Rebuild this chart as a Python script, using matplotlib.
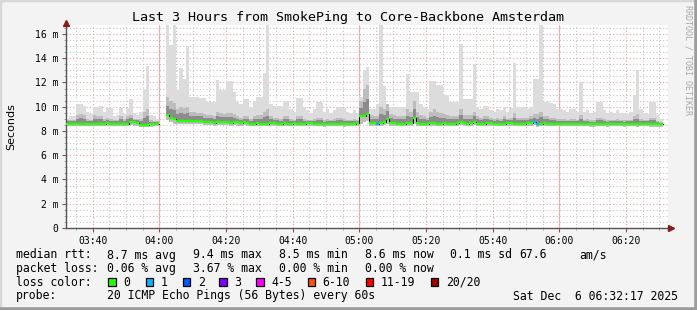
import numpy as np
import matplotlib.pyplot as plt
from matplotlib.patches import Rectangle
from matplotlib.lines import Line2D

nan = np.nan

# one sample per minute, first sample at 03:32 (values in ms)
rtt_med = [8.6, 8.6, 8.6, 8.6, 8.6, 8.6, 8.6, 8.6, 8.6, 8.6,
           8.6, 8.6, 8.65, 8.6, 8.6, 8.6, 8.6, 8.6, 8.6,
           8.7, 8.7, 8.65, 8.5, 8.5, 8.5, 8.55, 8.55, 8.55,
           nan, nan,
           9.3, 9.1, 9.0, 8.85, 8.85, 8.85, 8.85, 8.85, 8.85, 8.85,
           8.85, 8.7, 8.7, 8.7, 8.65, 8.7, 8.7, 8.75, 8.7, 8.65,
           8.7, 8.7, 8.65, 8.7, 8.65, 8.6, 8.6, 8.65, 8.6, 8.6,
           8.6, 8.65, 8.65, 8.6, 8.6, 8.65, 8.6, 8.6, 8.65, 8.6,
           8.6, 8.6, 8.65, 8.65, 8.6, 8.6, 8.6, 8.55, 8.6, 8.6,
           8.6, 8.6, 8.6, 8.55, 8.6, 8.6, 8.6, 8.65,
           9.2, 9.2, 9.4, 8.65, 8.65, 8.6, 8.65, 8.75, 9.0, 8.65,
           8.65, 8.6, 8.6, 8.6, 8.65, 8.65, 9.05, 8.65, 8.6, 8.6,
           8.6, 8.65, 8.65, 8.6, 8.6, 8.65, 8.6, 8.6, 8.6, 8.65,
           8.7, 8.65, 8.6, 8.65, 8.7, 8.6, 8.6, 8.6, 8.65, 8.65,
           8.6, 8.6, 8.6, 8.6, 8.65, 8.65, 8.6, 8.6, 8.6, 8.6,
           8.65, 8.65, 8.7, 8.55, 8.6, 8.65, 8.6, 8.6, 8.6, 8.6,
           8.6, 8.6, 8.6, 8.6, 8.6, 8.6, 8.6, 8.6, 8.6, 8.55,
           8.55, 8.6, 8.6, 8.6, 8.55, 8.6, 8.6, 8.6, 8.6, 8.55,
           8.6, 8.6, 8.6, 8.55, 8.6, 8.6, 8.6, 8.55, 8.55, 8.55, 8.55]

rtt_max = [9.0, 9.2, 9.2, 10.2, 10.2, 10.1, 9.6, 9.4, 10.0, 10.0,
           10.1, 9.6, 9.9, 9.9, 9.2, 9.3, 9.9, 9.4, 9.9,
           10.6, 9.5, 9.3, 9.6, 11.5, 13.4, 9.3, 9.2, 9.0,
           nan, nan,
           16.7, 15.1, 16.7, 11.4, 13.2, 12.3, 15.0, 10.8, 10.8, 10.8,
           10.7, 10.7, 10.4, 10.4, 10.4, 12.2, 11.4, 11.4, 12.1, 12.1,
           11.2, 10.4, 10.2, 10.6, 10.6, 10.0, 10.5, 10.8, 10.8, 12.8,
           16.7, 10.2, 10.1, 10.1, 10.1, 10.5, 10.5, 9.8, 9.6, 10.7,
           10.7, 10.0, 9.7, 9.5, 9.8, 10.4, 10.4, 9.6, 9.8, 9.5,
           9.7, 10.0, 10.0, 9.9, 9.6, 9.5, 9.7, 9.5,
           10.8, 13.0, 13.3, 9.8, 9.8, 10.2, 16.7, 11.7, 10.0, 10.0,
           10.0, 10.0, 10.0, 10.0, 12.7, 11.2, 11.2, 11.2, 10.2, 10.0,
           9.8, 12.1, 12.1, 11.8, 11.8, 11.0, 11.0, 10.4, 10.4, 10.4,
           15.2, 10.6, 10.6, 10.6, 13.5, 10.0, 9.8, 10.1, 10.1, 9.7,
           9.6, 9.8, 9.7, 10.0, 9.6, 9.9, 13.6, 10.0, 10.0, 10.0,
           9.8, 10.0, 12.3, 12.3, 16.7, 10.4, 10.5, 10.3, 10.2, 9.8,
           9.8, 9.7, 9.6, 9.8, 9.8, 9.6, 12.0, 9.6, 9.7, 9.5,
           9.6, 10.4, 10.4, 9.7, 9.5, 9.6, 9.5, 9.7, 9.5, 9.5,
           9.4, 9.6, 11.0, 13.0, 9.8, 9.5, 9.4, 10.4, 10.4, 9.3, 9.0]

rtt_p75 = [8.9, 8.9, 8.9, 9.3, 9.4, 9.3, 9.0, 8.9, 9.3, 9.2,
           9.2, 9.0, 9.1, 9.0, 8.9, 8.9, 9.2, 9.0, 9.2,
           9.3, 9.0, 9.0, 9.0, 9.6, 9.8, 8.9, 8.8, 8.8,
           nan, nan,
           10.8, 10.5, 10.3, 9.8, 10.0, 9.9, 10.0, 9.6, 9.6, 9.5,
           9.5, 9.4, 9.3, 9.3, 9.2, 9.6, 9.5, 9.4, 9.5, 9.5,
           9.4, 9.2, 9.1, 9.2, 9.2, 9.0, 9.2, 9.3, 9.3, 9.6,
           9.8, 9.2, 9.1, 9.1, 9.0, 9.2, 9.2, 9.0, 8.9, 9.2,
           9.2, 9.0, 8.9, 8.9, 9.0, 9.1, 9.1, 8.9, 9.0, 8.9,
           9.0, 9.1, 9.1, 9.0, 8.9, 8.9, 9.0, 8.9,
           10.5, 11.5, 11.8, 9.3, 9.2, 9.2, 10.0, 9.8, 10.2, 9.4,
           9.3, 9.2, 9.2, 9.2, 9.8, 9.6, 10.5, 9.6, 9.3, 9.2,
           9.1, 9.6, 9.8, 9.6, 9.5, 9.4, 9.3, 9.2, 9.2, 9.2,
           9.8, 9.3, 9.3, 9.3, 9.6, 9.2, 9.1, 9.2, 9.2, 9.1,
           9.0, 9.1, 9.0, 9.2, 9.0, 9.1, 9.5, 9.1, 9.1, 9.1,
           9.1, 9.2, 9.4, 9.4, 9.6, 9.2, 9.2, 9.1, 9.1, 9.0,
           9.0, 9.0, 8.9, 9.0, 9.0, 8.9, 9.3, 8.9, 9.0, 8.9,
           8.9, 9.1, 9.1, 9.0, 8.9, 8.9, 8.9, 9.0, 8.9, 8.9,
           8.9, 8.9, 9.2, 9.4, 9.0, 8.9, 8.9, 9.1, 9.1, 8.8, 8.7]

rtt_min = [8.45, 8.4, 8.45, 8.4, 8.4, 8.45, 8.4, 8.45, 8.4, 8.4,
           8.45, 8.4, 8.45, 8.45, 8.4, 8.4, 8.45, 8.4, 8.45,
           8.5, 8.45, 8.45, 8.3, 8.3, 8.35, 8.35, 8.4, 8.4,
           nan, nan,
           8.9, 8.7, 8.6, 8.6, 8.6, 8.55, 8.6, 8.6, 8.55, 8.6,
           8.55, 8.5, 8.5, 8.5, 8.45, 8.5, 8.5, 8.5, 8.5, 8.45,
           8.5, 8.45, 8.45, 8.5, 8.45, 8.4, 8.4, 8.45, 8.4, 8.4,
           8.4, 8.45, 8.45, 8.4, 8.4, 8.45, 8.4, 8.4, 8.45, 8.4,
           8.4, 8.4, 8.45, 8.45, 8.4, 8.4, 8.4, 8.35, 8.4, 8.4,
           8.4, 8.4, 8.4, 8.35, 8.4, 8.4, 8.4, 8.45,
           8.6, 8.7, 8.8, 8.45, 8.45, 8.4, 8.45, 8.5, 8.6, 8.45,
           8.45, 8.4, 8.4, 8.4, 8.45, 8.45, 8.6, 8.45, 8.4, 8.4,
           8.4, 8.45, 8.45, 8.4, 8.4, 8.45, 8.4, 8.4, 8.4, 8.45,
           8.5, 8.45, 8.4, 8.45, 8.5, 8.4, 8.4, 8.4, 8.45, 8.45,
           8.4, 8.4, 8.4, 8.4, 8.45, 8.45, 8.4, 8.4, 8.4, 8.4,
           8.45, 8.45, 8.5, 8.35, 8.4, 8.45, 8.4, 8.4, 8.4, 8.4,
           8.4, 8.4, 8.4, 8.4, 8.4, 8.4, 8.4, 8.4, 8.4, 8.35,
           8.35, 8.4, 8.4, 8.4, 8.35, 8.4, 8.4, 8.4, 8.4, 8.35,
           8.4, 8.4, 8.4, 8.35, 8.4, 8.4, 8.4, 8.35, 8.35, 8.35, 8.3]

# minutes (since 03:32) with lost pings, and how many were lost
loss_minute = [93, 140, 141]
loss_count = [1, 1, 1]

tick_min = [8, 28, 48, 68, 88, 108, 128, 148, 168]
tick_lbl = ['03:40', '04:00', '04:20', '04:40', '05:00', '05:20', '05:40', '06:00', '06:20']
hour_min = [28, 88, 148]

loss_names = ['0', '1', '2', '3', '4-5', '6-10', '11-19', '20/20']
loss_colors = ['#26ff00', '#00b8ff', '#0059ff', '#7e00ff', '#ff00ff', '#ff5500', '#ff0000', '#a10000']

W, H = 697, 310
fig = plt.figure(figsize=(W / 100, H / 100), dpi=100)
fig.patch.set_facecolor('#f3f3f3')
mono = 'DejaVu Sans Mono'

def fx(x):
    return x / W

def fy(y):
    return 1 - y / H

ax = fig.add_axes([fx(66), fy(228), 602 / W, 203 / H])
ax.set_facecolor('white')
ax.set_xlim(0, 180.6)
ax.set_ylim(0, 16.74)

t = np.arange(len(rtt_med))
med = np.array(rtt_med)
hi = np.array(rtt_max)
p75 = np.array(rtt_p75)
lo = np.array(rtt_min)

# grid: minor every 0.5 m / 5 min, major every 2 m / 20 min
ax.set_yticks(np.arange(0, 17, 2))
ax.set_yticks([v for v in np.arange(0.5, 16.7, 0.5) if v % 2], minor=True)
ax.set_xticks(tick_min)
ax.set_xticks([m for m in range(3, 181, 5) if m not in tick_min], minor=True)
ax.grid(which='minor', color='#c4c4c4', ls=(0, (1, 2)), lw=0.8)
ax.grid(which='major', color='#eea0a0', ls=(0, (1, 2)), lw=0.8)
ax.set_axisbelow(True)
for h in hour_min:
    ax.axvline(h, color='#f6b4b4', lw=0.9, zorder=0.5)

# smoke
ax.bar(t, hi - lo, bottom=lo, width=1, align='edge', color='#dcdcdc', lw=0, zorder=1)
ax.bar(t, p75 - lo, bottom=lo, width=1, align='edge', color='#bdbdbd', lw=0, zorder=1.1)
ax.bar(t, (p75 - med) * 0.5 + 0.1, bottom=med - 0.05, width=1, align='edge',
       color='#8c8c8c', lw=0, zorder=1.2)

# median line coloured by loss
ax.step(np.append(t, t[-1] + 1), np.append(med, med[-1]), where='post',
        color='black', lw=0.7, zorder=2)
cols = [loss_colors[0]] * len(t)
for m, c in zip(loss_minute, loss_count):
    cols[m] = loss_colors[c]
ax.hlines(med, t, t + 1, colors=cols, lw=1.7, zorder=3)

# axes
for s in ['top', 'right']:
    ax.spines[s].set_visible(False)
for s in ['left', 'bottom']:
    ax.spines[s].set_color('#555555')
    ax.spines[s].set_linewidth(1)
ax.spines['bottom'].set_bounds(0, 182)
ax.tick_params(which='major', length=3, color='#aa4444', width=0.8, pad=2.5, labelsize=7)
ax.tick_params(which='minor', length=1.5, color='#999999', width=0.6)
ax.set_yticklabels(['0'] + [f'{v} m' for v in range(2, 17, 2)], family=mono)
ax.set_xticklabels(tick_lbl, family=mono)

fig.add_artist(Line2D([fx(671)], [fy(228)], marker='>', color='#8b1a1a', ms=4.5))
fig.add_artist(Line2D([fx(66)], [fy(23)], marker='^', color='#8b1a1a', ms=4.5))

# texts
fig.text(fx(347.5), fy(18), 'Last 3 Hours from SmokePing to Core-Backbone Amsterdam',
         family=mono, fontsize=9.6, ha='center', va='center')
fig.text(fx(11), fy(127), 'Seconds', fontsize=8, rotation=90, ha='center', va='center')
fig.text(fx(688), fy(5), 'RRDTOOL / TOBI OETIKER', family=mono, fontsize=6,
         rotation=270, ha='center', va='top', color='#a8a8a8')

fs = 8.3
row1 = ['median rtt:', '8.7 ms avg', '9.4 ms max', '8.5 ms min', '8.6 ms now', '0.1 ms sd', '67.6', 'am/s']
row1_x = [16, 107, 192.7, 279, 365, 450, 519.3, 579.3]
for s, x in zip(row1, row1_x):
    fig.text(fx(x), fy(255), s, family=mono, fontsize=fs, va='center')
row2 = ['packet loss:', '0.06 % avg', '3.67 % max', '0.00 % min', '0.00 % now']
row2_x = [16, 107, 192.7, 279, 365]
for s, x in zip(row2, row2_x):
    fig.text(fx(x), fy(268.3), s, family=mono, fontsize=fs, va='center')
fig.text(fx(16), fy(282.3), 'loss color:', family=mono, fontsize=fs, va='center')
sq_x = [108.3, 145.7, 182.7, 219.3, 256, 307.7, 365.7, 430.7]
for name, c, x in zip(loss_names, loss_colors, sq_x):
    fig.add_artist(Rectangle((fx(x), fy(285.5)), 7.5 / W, 7.5 / H, facecolor=c,
                             edgecolor='black', lw=0.9, transform=fig.transFigure))
    fig.text(fx(x + 15), fy(282.3), name, family=mono, fontsize=fs, va='center')
fig.text(fx(16), fy(296), 'probe:', family=mono, fontsize=fs, va='center')
fig.text(fx(107), fy(296), '20 ICMP Echo Pings (56 Bytes) every 60s', family=mono, fontsize=fs, va='center')
fig.text(fx(513.3), fy(296), 'Sat Dec  6 06:32:17 2025', family=mono, fontsize=fs, va='center')

# border
fig.add_artist(Line2D([0, 0, 1], [0, 1, 1], color='#d8d8d8', lw=2.5, transform=fig.transFigure))
fig.add_artist(Line2D([0, 1, 1], [0, 0, 1], color='#9c9c9c', lw=4, transform=fig.transFigure))

fig.savefig('out.png', dpi=100, facecolor=fig.get_facecolor())
